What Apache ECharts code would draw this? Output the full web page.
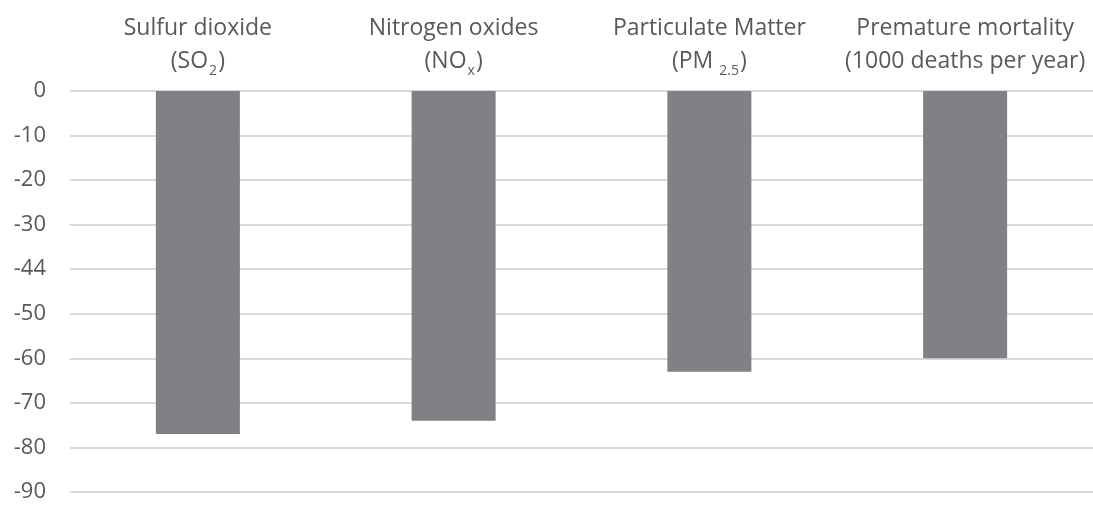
<!DOCTYPE html>
<html>
<head>
<meta charset="utf-8">
<script src="https://cdn.jsdelivr.net/npm/echarts@6/dist/echarts.min.js"></script>
<style>
html,body{margin:0;padding:0;background:#fff;}
#chart{width:1093px;height:507px;}
</style>
</head>
<body>
<div id="chart"></div>
<script>
// Category names (first line) and chemical formula parts (prefix, subscript, suffix)
const categoryNames = ['Sulfur dioxide', 'Nitrogen oxides', 'Particulate Matter', 'Premature mortality'];
const categoryFormulas = [['(SO', '2', ')'], ['(NO', 'x', ')'], ['(PM', '2.5', ')'], ['(1000 deaths per year)', '', '']];
const values = [-77, -74, -63, -60];
const yTickLabels = ['0', '-10', '-20', '-30', '-44', '-50', '-60', '-70', '-80', '-90'];
const yTickValues = [0, -10, -20, -30, -40, -50, -60, -70, -80, -90];

const categories = categoryNames.slice();

const chart = echarts.init(document.getElementById('chart'), null, {renderer: 'canvas'});
const font = '"Open Sans", "Noto Sans", sans-serif';
chart.setOption({
  animation: false,
  grid: {left: 70, width: 1029, top: 91, bottom: 15},
  xAxis: {
    type: 'category',
    position: 'top',
    data: categories,
    axisLine: {show: false},
    axisTick: {show: false},
    axisLabel: {
      interval: 0,
      margin: 13,
      color: '#595959',
      fontFamily: font,
      fontSize: 23,
      lineHeight: 33,
      formatter: function (v, idx) {
        const f = categoryFormulas[idx];
        let second = '{b|' + f[0] + '}';
        if (f[1]) second += (f[1].length > 1 ? '{subw|' : '{sub|') + f[1] + '}';
        if (f[2]) second += '{b|' + f[2] + '}';
        return '{b|' + categoryNames[idx] + '}\n' + second;
      },
      rich: {
        b: {fontFamily: font, fontSize: 23, color: '#595959', lineHeight: 33},
        sub: {fontFamily: font, fontSize: 14, color: '#595959', lineHeight: 33, verticalAlign: 'bottom', padding: [0, 1, 0, 1]},
        subw: {fontFamily: font, fontSize: 14, color: '#595959', lineHeight: 33, verticalAlign: 'bottom', padding: [0, 1, 0, 6]}
      }
    }
  },
  yAxis: {
    type: 'value',
    min: -90,
    max: 0,
    interval: 10,
    axisLine: {show: false},
    axisTick: {show: false},
    splitLine: {lineStyle: {color: '#d9d9d9', width: 2}},
    axisLabel: {
      margin: 24,
      color: '#595959',
      fontFamily: font,
      fontSize: 22,
      formatter: function (v) {
        const i = yTickValues.indexOf(Math.round(v));
        return i >= 0 ? yTickLabels[i] : '';
      }
    }
  },
  series: [{
    type: 'bar',
    data: values,
    barWidth: 84,
    itemStyle: {color: '#808185'}
  }]
});
</script>
</body>
</html>
